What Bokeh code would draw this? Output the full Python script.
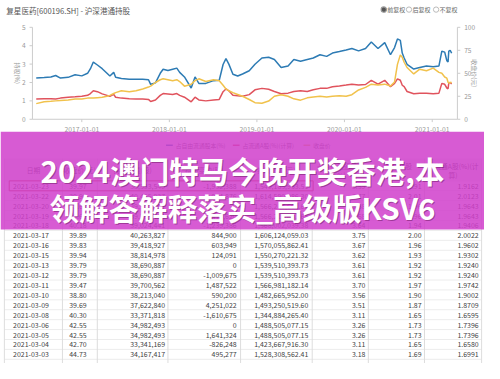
import pandas as pd
from math import pi
from bokeh.plotting import figure
from bokeh.models import Range1d
from bokeh.core.properties import value
from bokeh.embed import file_html
from bokeh.resources import INLINE

# ---------------- data ----------------
dates = ["2016-06-25", "2016-07-28", "2016-08-25", "2016-09-14", "2016-10-04", "2016-11-05", "2016-12-04",
         "2017-01-01", "2017-01-25", "2017-02-06", "2017-02-18", "2017-03-07", "2017-03-27", "2017-04-16",
         "2017-04-28", "2017-05-14", "2017-05-22", "2017-06-15", "2017-07-18", "2017-08-15", "2017-09-12",
         "2017-10-06", "2017-10-15", "2017-11-04", "2017-11-24", "2017-12-06", "2017-12-26", "2018-01-15",
         "2018-02-01", "2018-02-13", "2018-03-05", "2018-04-02", "2018-04-18", "2018-05-04", "2018-06-02",
         "2018-07-04", "2018-07-28", "2018-08-13", "2018-08-25", "2018-09-06", "2018-09-23", "2018-10-13",
         "2018-11-02", "2018-11-30", "2018-12-24", "2019-01-22", "2019-02-19", "2019-03-15", "2019-04-12",
         "2019-05-11", "2019-06-04", "2019-07-02", "2019-07-30", "2019-08-24", "2019-09-21", "2019-10-19",
         "2019-11-12", "2019-12-11", "2020-01-08", "2020-02-01", "2020-02-29", "2020-03-29", "2020-04-22",
         "2020-05-20", "2020-06-17", "2020-07-11", "2020-07-28", "2020-08-09", "2020-08-21", "2020-08-29",
         "2020-09-06", "2020-09-18", "2020-10-16", "2020-11-10", "2020-12-08", "2021-01-05", "2021-01-29",
         "2021-02-10", "2021-02-22", "2021-03-03", "2021-03-08", "2021-03-11", "2021-03-17", "2021-03-23"]
free_float_pct = [2.24, 2.27, 2.30, 2.38, 2.24, 2.28, 2.42,
                  2.36, 2.50, 2.75, 3.11, 2.95, 2.75, 2.50,
                  2.35, 2.55, 2.28, 2.22, 2.18, 2.18, 2.17,
                  2.15, 1.90, 1.98, 2.50, 2.72, 2.65, 2.72,
                  2.78, 2.55, 2.30, 1.70, 2.30, 1.95, 1.95,
                  2.10, 2.12, 2.98, 3.30, 3.00, 2.45, 2.35,
                  2.46, 2.64, 2.99, 3.33, 3.37, 3.25, 2.81,
                  2.90, 3.25, 3.16, 3.25, 3.33, 3.51, 3.42,
                  3.60, 3.68, 3.77, 3.85, 3.72, 3.85, 4.20,
                  3.85, 4.17, 3.51, 3.90, 4.37, 4.29, 3.60,
                  3.33, 2.99, 2.73, 2.81, 2.90, 2.85, 2.90,
                  3.70, 3.65, 3.18, 3.11, 3.70, 3.75, 3.59]
float_a_pct = [1.10, 1.12, 1.12, 1.10, 1.15, 1.20, 1.22,
               1.25, 1.30, 1.40, 1.55, 1.50, 1.38, 1.30,
               1.25, 1.35, 1.20, 1.15, 1.12, 1.10, 1.10,
               1.08, 0.97, 1.05, 1.30, 1.40, 1.38, 1.35,
               1.40, 1.30, 1.20, 0.95, 1.20, 1.05, 1.00,
               1.05, 1.08, 1.50, 1.65, 1.55, 1.30, 1.28,
               1.25, 1.34, 1.60, 1.68, 1.63, 1.51, 1.39,
               1.42, 1.51, 1.55, 1.51, 1.60, 1.68, 1.68,
               1.77, 1.81, 1.86, 1.91, 1.86, 1.89, 2.12,
               1.91, 2.12, 1.77, 1.95, 2.20, 2.12, 1.85,
               1.77, 1.51, 1.39, 1.42, 1.42, 1.39, 1.42,
               1.95, 1.90, 1.70, 1.66, 1.97, 2.00, 1.92]
close_price = [17.0, 19.0, 19.5, 20.0, 20.5, 21.0, 22.0,
               22.0, 23.0, 23.0, 23.0, 23.5, 24.0, 25.0,
               26.0, 28.0, 29.0, 31.0, 30.0, 31.0, 33.0,
               35.0, 36.0, 40.0, 43.0, 44.0, 43.0, 42.0,
               43.0, 41.0, 36.0, 38.0, 42.0, 44.0, 41.0,
               43.0, 42.0, 37.0, 33.0, 31.0, 29.0, 27.0,
               25.0, 21.5, 18.0, 17.4, 19.8, 25.0, 26.7,
               25.0, 22.2, 20.8, 23.3, 24.3, 25.0, 24.3,
               25.0, 25.7, 25.0, 26.7, 31.9, 34.7, 38.2,
               37.2, 38.2, 36.1, 40.6, 59.7, 70.0, 67.4,
               62.0, 56.3, 49.3, 54.5, 52.8, 55.6, 51.0,
               50.0, 46.0, 44.7, 40.3, 39.5, 39.9, 40.0]

left_ticks = [0, 1, 2, 3, 4, 5]
right_ticks = [0, 25, 50, 75, 100]
date_ticks = ["2017-01-01", "2018-01-01", "2019-01-01", "2020-01-01", "2021-01-01"]

series_names = ["占自由流通股本(%)", "占流通A股(%)(计算)", "收盘价"]
chart_title = "复星医药[600196.SH] - 沪深港通持股"
adjust_options = ["前复权", "后复权", "不复权"]
left_axis_name = "持股(%)"
right_axis_name = "收盘价(元)"

header_line1 = ["日期", "收盘价(元)", "持股数量(股)", "持股变动(股)", "持股市值(元)", "占自由流通股本", "占流通A股", "占流通A股(%)(计"]
header_line2 = ["", "", "", "", "", "(%)", "(%)", "算)"]

t_dates = ["2021-03-23", "2021-03-22", "2021-03-20", "2021-03-19", "2021-03-18", "2021-03-17",
           "2021-03-16", "2021-03-15", "2021-03-13", "2021-03-12", "2021-03-11", "2021-03-10",
           "2021-03-09", "2021-03-08", "2021-03-06", "2021-03-05", "2021-03-04", "2021-03-03"]
t_close = [39.97, 39.90, 39.65, 39.65, 40.18, 39.89, 39.83, 39.94, 39.79, 39.79, 39.47, 38.80,
           39.69, 40.30, 42.55, 42.55, 42.70, 44.73]
t_shares = [38533549, 40465937, 39501061, 39501061, 39024441, 40263827, 39418927, 38814978,
            38690887, 38690887, 39700562, 38213040, 37622840, 33371818, 34982493, 34982493,
            33341169, 34167417]
t_change = [-1932388, 964876, 0, 476620, -1239386, 844900, 603949, 124091, 0, -1009675,
            1487522, 590200, 4251022, -1610675, 0, 1641324, -826248, 495277]
t_value = [1540185953.51, 1614590886.30, 1566217661.65, 1566217661.65, 1568002039.38,
           1606124059.03, 1570055862.41, 1550270221.32, 1539510393.73, 1539510393.73,
           1566981182.14, 1482665952.00, 1493250519.60, 1344884265.40, 1488505077.15,
           1488505077.15, 1423667916.30, 1528308562.41]
t_free = [3.59, 3.77, 3.68, 3.68, 3.64, 3.75, 3.67, 3.62, 3.61, 3.61, 3.70, 3.56, 3.51, 3.11,
          3.26, 3.26, 3.11, 3.18]
t_float = [1.91, 2.01, 1.96, 1.96, 1.94, 2.00, 1.96, 1.93, 1.92, 1.92, 1.97, 1.90, 1.87, 1.65,
           1.73, 1.73, 1.65, 1.69]
t_float_calc = [1.9162, 2.0123, 1.9643, 1.9643, 1.9406, 2.0022, 1.9602, 1.9302, 1.9240, 1.9240,
                1.9742, 1.9002, 1.8709, 1.6595, 1.7396, 1.7396, 1.6580, 1.6991]

banner_lines = ["2024澳门特马今晚开奖香港,本", "领解答解释落实_高级版KSV6"]

# ---------------- layout (reference pixels, y from top) ----------------
W, H = 500, 379
FW, FH = 484, 363
S = FW / W
CJK = value("Noto Sans CJK SC")


def fs(px):
    return f"{px * S:.2f}px"


BLUE, RED, YELLOW = "#2d7bb4", "#e0535d", "#f1c24c"
AX_X0, AX_X1 = 33, 472
ZERO_Y, TOP_Y = 124, 28
X2017, PX_YEAR = 84, 90.5

p = figure(width=FW, height=FH, output_backend="svg", toolbar_location=None,
           x_range=Range1d(0, W), y_range=Range1d(H, 0),
           x_axis_type=None, y_axis_type=None, min_border=0,
           outline_line_color=None, background_fill_color="white",
           border_fill_color="white")
p.grid.visible = False

t2017 = pd.Timestamp("2017-01-01")
t0 = t2017 - pd.Timedelta(days=X2017 / PX_YEAR * 365.25)
t1 = t2017 + pd.Timedelta(days=(W - X2017) / PX_YEAR * 365.25)
ppu_left = (ZERO_Y - TOP_Y) / max(left_ticks)
ppu_right = (ZERO_Y - TOP_Y) / max(right_ticks)
p.extra_x_ranges = {"t": Range1d(start=t0.to_pydatetime(), end=t1.to_pydatetime())}
p.extra_y_ranges = {
    "left": Range1d(start=(ZERO_Y - H) / ppu_left, end=ZERO_Y / ppu_left),
    "right": Range1d(start=(ZERO_Y - H) / ppu_right, end=ZERO_Y / ppu_right),
}

# title and adjust options
p.text(x=[6], y=[10.5], text=[chart_title], text_font=CJK, text_font_size=fs(7.8),
       text_color="#555555", text_baseline="middle")
opt_x = [396, 422, 450]
p.scatter(x=opt_x[:1], y=[9.5], size=5.5 * S, marker="circle", fill_color="#555555",
          line_color="#999999", line_width=1.2)
p.scatter(x=opt_x[1:], y=[9.5, 9.5], size=5.5 * S, marker="circle", fill_color="white",
          line_color="#bbbbbb", line_width=1)
p.text(x=[x + 3.5 for x in opt_x], y=[9.5] * 3, text=adjust_options, text_font=CJK,
       text_font_size=fs(6.2), text_color="#666666", text_baseline="middle")

# axes
p.segment(x0=[AX_X0, AX_X1, AX_X0], y0=[TOP_Y, TOP_Y, ZERO_Y],
          x1=[AX_X0, AX_X1, AX_X1], y1=[ZERO_Y, ZERO_Y, ZERO_Y],
          line_color="#cccccc", line_width=1)
p.segment(x0=[AX_X0 - 3] * len(left_ticks), x1=[AX_X0] * len(left_ticks),
          y0=left_ticks, y1=left_ticks, y_range_name="left", line_color="#cccccc")
p.text(x=[AX_X0 - 7] * len(left_ticks), y=left_ticks, text=[str(v) for v in left_ticks],
       y_range_name="left", text_font=CJK, text_font_size=fs(6.8), text_color="#999999",
       text_align="right", text_baseline="middle")
p.segment(x0=[AX_X1] * len(right_ticks), x1=[AX_X1 + 3] * len(right_ticks),
          y0=right_ticks, y1=right_ticks, y_range_name="right", line_color="#cccccc")
p.text(x=[AX_X1 + 7] * len(right_ticks), y=right_ticks, text=[str(v) for v in right_ticks],
       y_range_name="right", text_font=CJK, text_font_size=fs(6.8), text_color="#999999",
       text_align="left", text_baseline="middle")
dt = pd.to_datetime(date_ticks)
p.segment(x0=dt, x1=dt, y0=[ZERO_Y] * len(dt), y1=[ZERO_Y + 3] * len(dt), x_range_name="t",
          line_color="#cccccc")
p.text(x=dt, y=[135] * len(dt), text=date_ticks, x_range_name="t", text_font=CJK,
       text_font_size=fs(7), text_color="#999999", text_align="center", text_baseline="middle")
p.text(x=[18], y=[76], text=[left_axis_name], angle=-pi / 2, text_font=CJK,
       text_font_size=fs(6.2), text_color="#999999", text_align="center", text_baseline="middle")
p.text(x=[490], y=[76], text=[right_axis_name], angle=-pi / 2, text_font=CJK,
       text_font_size=fs(6.2), text_color="#999999", text_align="center", text_baseline="middle")

# series
dd = pd.to_datetime(dates)
p.line(dd, free_float_pct, x_range_name="t", y_range_name="left", line_color=BLUE, line_width=1.5)
p.line(dd, float_a_pct, x_range_name="t", y_range_name="left", line_color=RED, line_width=1.5)
p.line(dd, close_price, x_range_name="t", y_range_name="right", line_color=YELLOW, line_width=1.5)

# legend
leg_x = [171, 240, 313]
p.segment(x0=leg_x, x1=[x + 7 for x in leg_x], y0=[151] * 3, y1=[151] * 3,
          line_color=[BLUE, RED, YELLOW], line_width=1.5)
p.text(x=[x + 10 for x in leg_x], y=[151] * 3, text=series_names, text_font=CJK,
       text_font_size=fs(6), text_color="#666666", text_baseline="middle")

# table
col_lines = [4, 64, 100, 173, 248, 322, 380, 438, 497]
TBL_TOP, ROW_H, ROW0 = 165, 10.35, 193.5
HDR_BOT = ROW0 - ROW_H / 2
n = len(t_dates)
p.quad(left=[col_lines[0]], right=[col_lines[-1]], top=[TBL_TOP], bottom=[HDR_BOT],
       fill_color="#f2f2f2", line_color=None)
row_y = [ROW0 + ROW_H * i for i in range(n)]
hl = [HDR_BOT + ROW_H * i for i in range(n + 1)]
p.segment(x0=[col_lines[0]] * len(hl), x1=[col_lines[-1]] * len(hl), y0=hl, y1=hl,
          line_color="#ececec", line_width=1)
p.segment(x0=col_lines, x1=col_lines, y0=[TBL_TOP] * len(col_lines), y1=[H + 5] * len(col_lines),
          line_color="#dddddd", line_width=1)
centers = [(a + b) / 2 for a, b in zip(col_lines[:-1], col_lines[1:])]
one_line = [c for c, l2 in zip(centers, header_line2) if not l2]
p.text(x=one_line, y=[177] * len(one_line), text=[t for t, l2 in zip(header_line1, header_line2) if not l2],
       text_font=CJK, text_font_size=fs(7), text_color="#444444", text_align="center",
       text_baseline="middle")
two_c = [c for c, l2 in zip(centers, header_line2) if l2]
p.text(x=two_c, y=[172.5] * len(two_c), text=[t for t, l2 in zip(header_line1, header_line2) if l2],
       text_font=CJK, text_font_size=fs(7), text_color="#444444", text_align="center",
       text_baseline="middle")
p.text(x=two_c, y=[182] * len(two_c), text=[l2 for l2 in header_line2 if l2],
       text_font=CJK, text_font_size=fs(7), text_color="#444444", text_align="center",
       text_baseline="middle")

cell_style = dict(text_font=CJK, text_font_size=fs(7.2), text_color="#444444", text_baseline="middle")
p.text(x=[13] * n, y=row_y, text=t_dates, **cell_style)
cols_fmt = [
    ([f"{v:.2f}" for v in t_close], 89),
    ([f"{v:,}" for v in t_shares], 170),
    ([f"{v:,}" for v in t_change], 244),
    ([f"{v:,.2f}" for v in t_value], 318),
    ([f"{v:.2f}" for v in t_free], 377),
    ([f"{v:.2f}" for v in t_float], 435),
    ([f"{v:.4f}" for v in t_float_calc], 494),
]
for texts, xr in cols_fmt:
    p.text(x=[xr] * n, y=row_y, text=texts, text_align="right", **cell_style)

# highlighted first row
p.quad(left=[9], right=[323], top=[row_y[0] - 5.2], bottom=[row_y[0] + 5.2],
       fill_color=None, line_color="#c0392b", line_width=1)

# banner
p.quad(left=[0], right=[W], top=[137], bottom=[239], fill_color="#d040cc", fill_alpha=0.86,
       line_color=None)
banner_y = [178, 216]
p.text(x=[W / 2 + 1] * 2, y=[y + 1 for y in banner_y], text=banner_lines, text_font=CJK,
       text_font_style="bold", text_font_size=fs(30.5), text_color="#5a1050", text_alpha=0.45,
       text_align="center", text_baseline="middle")
p.text(x=[W / 2] * 2, y=banner_y, text=banner_lines, text_font=CJK,
       text_font_style="bold", text_font_size=fs(30.5), text_color="white",
       text_align="center", text_baseline="middle")

open("out.html", "w").write(file_html(p, INLINE))
